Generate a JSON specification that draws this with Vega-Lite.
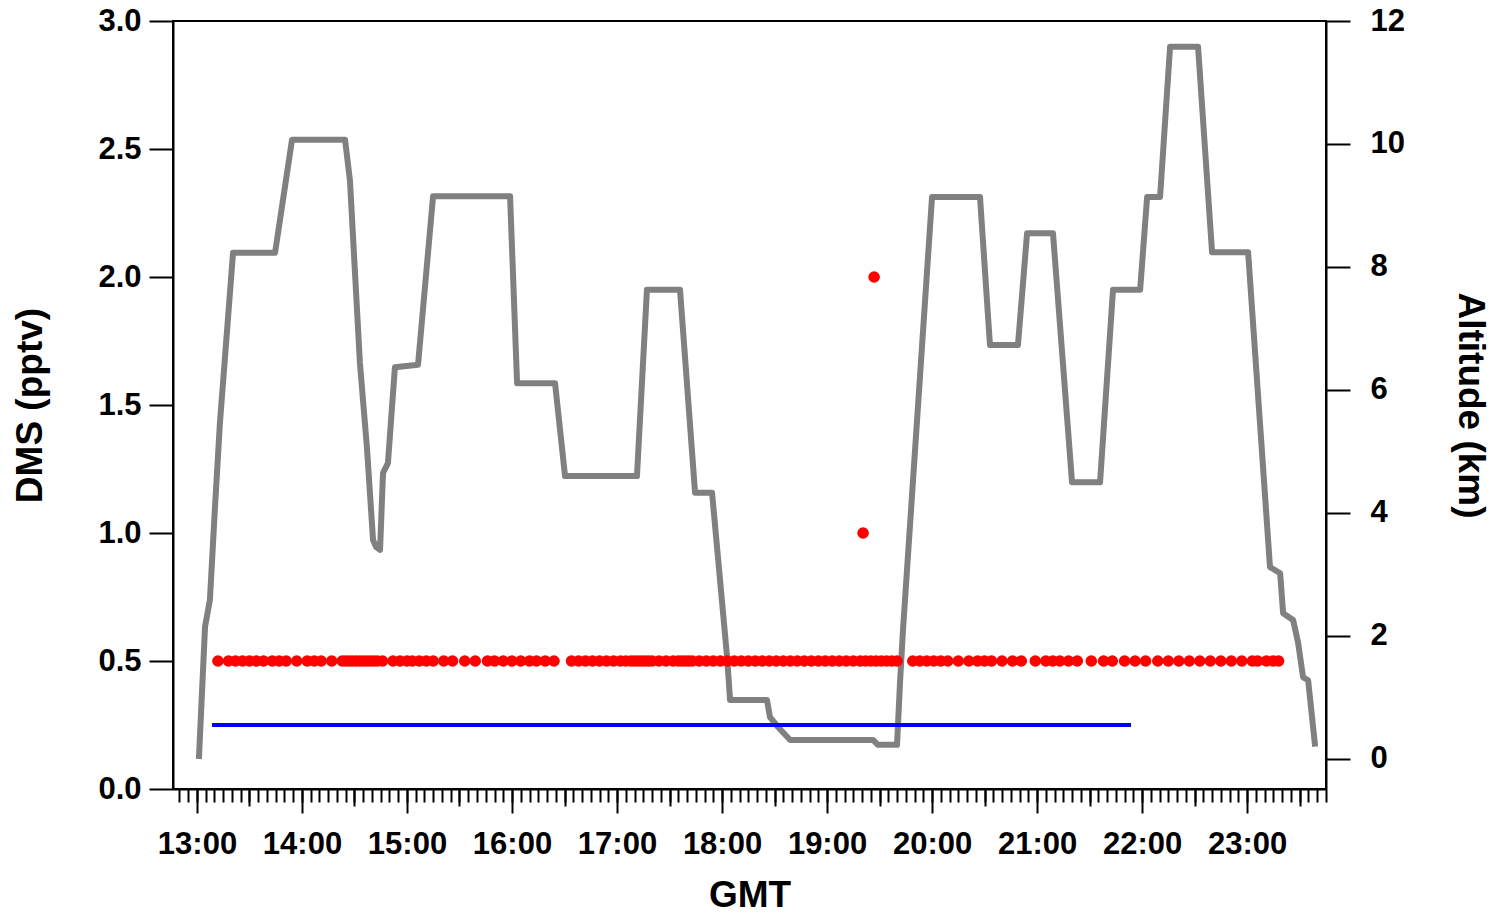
{
  "$schema": "https://vega.github.io/schema/vega-lite/v6.json",
  "width": 1153,
  "height": 768,
  "autosize": {"type": "none"},
  "padding": {"left": 173, "top": 21, "right": 169, "bottom": 124},
  "config": {
    "view": {"stroke": "black", "strokeWidth": 2},
    "axis": {
      "domainColor": "black", "domainWidth": 2, "tickColor": "black", "tickWidth": 2,
      "labelFont": "Liberation Sans", "labelFontWeight": "bold", "labelFontSize": 31, "labelColor": "black",
      "titleFont": "Liberation Sans", "titleFontWeight": "bold", "titleFontSize": 37, "titleColor": "black",
      "grid": false
    }
  },
  "resolve": {"scale": {"y": "independent"}, "axis": {"x": "independent"}},
  "layer": [
    {
      "data": {"values": [
        {"min": 781.1, "alt": 0.0}, {"min": 784.6, "alt": 2.15}, {"min": 787.4, "alt": 2.59}, {"min": 790.3, "alt": 4.10},
        {"min": 793.1, "alt": 5.46}, {"min": 800.6, "alt": 8.23}, {"min": 824.6, "alt": 8.23}, {"min": 834.3, "alt": 10.07},
        {"min": 864.6, "alt": 10.07}, {"min": 867.4, "alt": 9.41}, {"min": 873.1, "alt": 6.44}, {"min": 877.1, "alt": 5.07},
        {"min": 880.6, "alt": 3.56}, {"min": 882.3, "alt": 3.45}, {"min": 884.6, "alt": 3.40}, {"min": 886.3, "alt": 4.65},
        {"min": 889.1, "alt": 4.81}, {"min": 893.1, "alt": 6.37}, {"min": 906.3, "alt": 6.41}, {"min": 914.9, "alt": 9.15},
        {"min": 958.9, "alt": 9.15}, {"min": 962.9, "alt": 6.11}, {"min": 984.6, "alt": 6.11}, {"min": 990.3, "alt": 4.60},
        {"min": 1031.4, "alt": 4.60}, {"min": 1037.1, "alt": 7.63}, {"min": 1056.0, "alt": 7.63}, {"min": 1064.6, "alt": 4.33},
        {"min": 1074.3, "alt": 4.33}, {"min": 1082.9, "alt": 1.66}, {"min": 1084.6, "alt": 0.96}, {"min": 1105.7, "alt": 0.96},
        {"min": 1107.4, "alt": 0.68}, {"min": 1112.0, "alt": 0.52}, {"min": 1118.9, "alt": 0.31}, {"min": 1166.3, "alt": 0.31},
        {"min": 1169.1, "alt": 0.23}, {"min": 1180.0, "alt": 0.23}, {"min": 1181.7, "alt": 1.24}, {"min": 1183.4, "alt": 2.10},
        {"min": 1200.0, "alt": 9.14}, {"min": 1227.4, "alt": 9.14}, {"min": 1233.1, "alt": 6.73}, {"min": 1249.1, "alt": 6.73},
        {"min": 1254.3, "alt": 8.55}, {"min": 1269.1, "alt": 8.55}, {"min": 1280.0, "alt": 4.50}, {"min": 1296.0, "alt": 4.50},
        {"min": 1303.4, "alt": 7.63}, {"min": 1318.9, "alt": 7.63}, {"min": 1322.9, "alt": 9.14}, {"min": 1330.3, "alt": 9.14},
        {"min": 1336.0, "alt": 11.58}, {"min": 1352.0, "alt": 11.58}, {"min": 1360.0, "alt": 8.24}, {"min": 1380.6, "alt": 8.24},
        {"min": 1393.1, "alt": 3.12}, {"min": 1398.9, "alt": 3.02}, {"min": 1400.6, "alt": 2.37}, {"min": 1406.3, "alt": 2.26},
        {"min": 1409.1, "alt": 1.90}, {"min": 1412.0, "alt": 1.33}, {"min": 1414.9, "alt": 1.28}, {"min": 1418.9, "alt": 0.20}
      ]},
      "mark": {"type": "line", "color": "#808080", "strokeWidth": 6, "strokeJoin": "round"},
      "encoding": {
        "x": {
          "field": "min", "type": "quantitative",
          "scale": {"domain": [766.3, 1425.1], "nice": false, "zero": false},
          "axis": {
            "orient": "bottom", "title": "GMT",
            "values": [780, 840, 900, 960, 1020, 1080, 1140, 1200, 1260, 1320, 1380],
            "tickCount": 100,
            "labelExpr": "floor(datum.value / 60) + ':00'",
            "tickSize": 24, "labelPadding": 16, "titlePadding": 18,
            "labelFlush": false, "labelOverlap": false, "labelBound": false
          }
        },
        "y": {
          "field": "alt", "type": "quantitative",
          "scale": {"domain": [-0.488, 12], "nice": false, "zero": false},
          "axis": {"orient": "right", "title": "Altitude (km)", "titleAngle": 90, "values": [0, 2, 4, 6, 8, 10, 12],
                   "format": "d", "tickCount": 100, "tickSize": 24, "labelPadding": 20, "titlePadding": 46}
        }
      }
    },
    {
      "data": {"values": [{"min": 788.6, "v": 0.25}, {"min": 1313.7, "v": 0.25}]},
      "mark": {"type": "line", "color": "#0000ff", "strokeWidth": 4},
      "encoding": {
        "x": {
          "field": "min", "type": "quantitative",
          "axis": {
            "orient": "bottom", "title": null, "labels": false, "domain": false, "tickCount": 100, "tickSize": 17,
            "values": [810, 870, 930, 990, 1050, 1110, 1170, 1230, 1290, 1350, 1410]
          }
        },
        "y": {
          "field": "v", "type": "quantitative",
          "scale": {"domain": [0, 3], "nice": false},
          "axis": {"orient": "left", "title": "DMS (pptv)", "values": [0, 0.5, 1, 1.5, 2, 2.5, 3], "format": ".1f", "tickCount": 100,
                   "tickSize": 24, "labelPadding": 8, "titlePadding": 48}
        }
      }
    },
    {
      "data": {"values": [
        {"min": 792, "dms": 0.5}, {"min": 798, "dms": 0.5}, {"min": 802, "dms": 0.5}, {"min": 806, "dms": 0.5},
        {"min": 810, "dms": 0.5}, {"min": 814, "dms": 0.5}, {"min": 818, "dms": 0.5}, {"min": 823, "dms": 0.5},
        {"min": 827, "dms": 0.5}, {"min": 831, "dms": 0.5}, {"min": 837, "dms": 0.5}, {"min": 843, "dms": 0.5},
        {"min": 847, "dms": 0.5}, {"min": 851, "dms": 0.5}, {"min": 857, "dms": 0.5}, {"min": 863, "dms": 0.5},
        {"min": 865, "dms": 0.5}, {"min": 867, "dms": 0.5}, {"min": 869, "dms": 0.5}, {"min": 871, "dms": 0.5},
        {"min": 873, "dms": 0.5}, {"min": 875, "dms": 0.5}, {"min": 877, "dms": 0.5}, {"min": 879, "dms": 0.5},
        {"min": 881, "dms": 0.5}, {"min": 883, "dms": 0.5}, {"min": 886, "dms": 0.5}, {"min": 892, "dms": 0.5},
        {"min": 896, "dms": 0.5}, {"min": 900, "dms": 0.5}, {"min": 903, "dms": 0.5}, {"min": 907, "dms": 0.5},
        {"min": 911, "dms": 0.5}, {"min": 915, "dms": 0.5}, {"min": 921, "dms": 0.5}, {"min": 926, "dms": 0.5},
        {"min": 933, "dms": 0.5}, {"min": 939, "dms": 0.5}, {"min": 946, "dms": 0.5}, {"min": 950, "dms": 0.5},
        {"min": 955, "dms": 0.5}, {"min": 960, "dms": 0.5}, {"min": 965, "dms": 0.5}, {"min": 970, "dms": 0.5},
        {"min": 974, "dms": 0.5}, {"min": 979, "dms": 0.5}, {"min": 984, "dms": 0.5}, {"min": 994, "dms": 0.5},
        {"min": 998, "dms": 0.5}, {"min": 1002, "dms": 0.5}, {"min": 1006, "dms": 0.5}, {"min": 1010, "dms": 0.5},
        {"min": 1014, "dms": 0.5}, {"min": 1018, "dms": 0.5}, {"min": 1022, "dms": 0.5}, {"min": 1025, "dms": 0.5},
        {"min": 1028, "dms": 0.5}, {"min": 1030, "dms": 0.5}, {"min": 1032, "dms": 0.5}, {"min": 1034, "dms": 0.5},
        {"min": 1036, "dms": 0.5}, {"min": 1038, "dms": 0.5}, {"min": 1040, "dms": 0.5}, {"min": 1044, "dms": 0.5},
        {"min": 1048, "dms": 0.5}, {"min": 1052, "dms": 0.5}, {"min": 1055, "dms": 0.5}, {"min": 1057, "dms": 0.5},
        {"min": 1059, "dms": 0.5}, {"min": 1061, "dms": 0.5}, {"min": 1063, "dms": 0.5}, {"min": 1067, "dms": 0.5},
        {"min": 1071, "dms": 0.5}, {"min": 1075, "dms": 0.5}, {"min": 1079, "dms": 0.5}, {"min": 1083, "dms": 0.5},
        {"min": 1087, "dms": 0.5}, {"min": 1091, "dms": 0.5}, {"min": 1095, "dms": 0.5}, {"min": 1099, "dms": 0.5},
        {"min": 1103, "dms": 0.5}, {"min": 1107, "dms": 0.5}, {"min": 1111, "dms": 0.5}, {"min": 1115, "dms": 0.5},
        {"min": 1119, "dms": 0.5}, {"min": 1123, "dms": 0.5}, {"min": 1127, "dms": 0.5}, {"min": 1131, "dms": 0.5},
        {"min": 1135, "dms": 0.5}, {"min": 1139, "dms": 0.5}, {"min": 1143, "dms": 0.5}, {"min": 1147, "dms": 0.5},
        {"min": 1151, "dms": 0.5}, {"min": 1155, "dms": 0.5}, {"min": 1159, "dms": 0.5}, {"min": 1160.6, "dms": 1.0},
        {"min": 1162, "dms": 0.5}, {"min": 1165, "dms": 0.5}, {"min": 1166.9, "dms": 2.0}, {"min": 1168, "dms": 0.5},
        {"min": 1171, "dms": 0.5}, {"min": 1174, "dms": 0.5}, {"min": 1177, "dms": 0.5}, {"min": 1180, "dms": 0.5},
        {"min": 1189, "dms": 0.5}, {"min": 1193, "dms": 0.5}, {"min": 1197, "dms": 0.5}, {"min": 1201, "dms": 0.5},
        {"min": 1205, "dms": 0.5}, {"min": 1209, "dms": 0.5}, {"min": 1215, "dms": 0.5}, {"min": 1221, "dms": 0.5},
        {"min": 1226, "dms": 0.5}, {"min": 1230, "dms": 0.5}, {"min": 1234, "dms": 0.5}, {"min": 1240, "dms": 0.5},
        {"min": 1246, "dms": 0.5}, {"min": 1251, "dms": 0.5}, {"min": 1259, "dms": 0.5}, {"min": 1265, "dms": 0.5},
        {"min": 1269, "dms": 0.5}, {"min": 1273, "dms": 0.5}, {"min": 1278, "dms": 0.5}, {"min": 1283, "dms": 0.5},
        {"min": 1291, "dms": 0.5}, {"min": 1298, "dms": 0.5}, {"min": 1303, "dms": 0.5}, {"min": 1310, "dms": 0.5},
        {"min": 1316, "dms": 0.5}, {"min": 1322, "dms": 0.5}, {"min": 1329, "dms": 0.5}, {"min": 1335, "dms": 0.5},
        {"min": 1341, "dms": 0.5}, {"min": 1347, "dms": 0.5}, {"min": 1353, "dms": 0.5}, {"min": 1359, "dms": 0.5},
        {"min": 1365, "dms": 0.5}, {"min": 1371, "dms": 0.5}, {"min": 1377, "dms": 0.5}, {"min": 1383, "dms": 0.5},
        {"min": 1386, "dms": 0.5}, {"min": 1391, "dms": 0.5}, {"min": 1395, "dms": 0.5}, {"min": 1398, "dms": 0.5}
      ]},
      "mark": {"type": "circle", "color": "#ff0000", "size": 135, "opacity": 1},
      "encoding": {
        "x": {
          "field": "min", "type": "quantitative",
          "axis": {
            "orient": "bottom", "title": null, "labels": false, "domain": false, "tickCount": 500, "tickSize": 13,
            "values": [770, 775, 780, 785, 790, 795, 800, 805, 810, 815, 820, 825, 830, 835, 840, 845, 850, 855, 860, 865, 870, 875, 880, 885, 890, 895, 900, 905, 910, 915, 920, 925, 930, 935, 940, 945, 950, 955, 960, 965, 970, 975, 980, 985, 990, 995, 1000, 1005, 1010, 1015, 1020, 1025, 1030, 1035, 1040, 1045, 1050, 1055, 1060, 1065, 1070, 1075, 1080, 1085, 1090, 1095, 1100, 1105, 1110, 1115, 1120, 1125, 1130, 1135, 1140, 1145, 1150, 1155, 1160, 1165, 1170, 1175, 1180, 1185, 1190, 1195, 1200, 1205, 1210, 1215, 1220, 1225, 1230, 1235, 1240, 1245, 1250, 1255, 1260, 1265, 1270, 1275, 1280, 1285, 1290, 1295, 1300, 1305, 1310, 1315, 1320, 1325, 1330, 1335, 1340, 1345, 1350, 1355, 1360, 1365, 1370, 1375, 1380, 1385, 1390, 1395, 1400, 1405, 1410, 1415, 1420, 1425]
          }
        },
        "y": {
          "field": "dms", "type": "quantitative",
          "scale": {"domain": [0, 3], "nice": false},
          "axis": null
        }
      }
    }
  ]
}
